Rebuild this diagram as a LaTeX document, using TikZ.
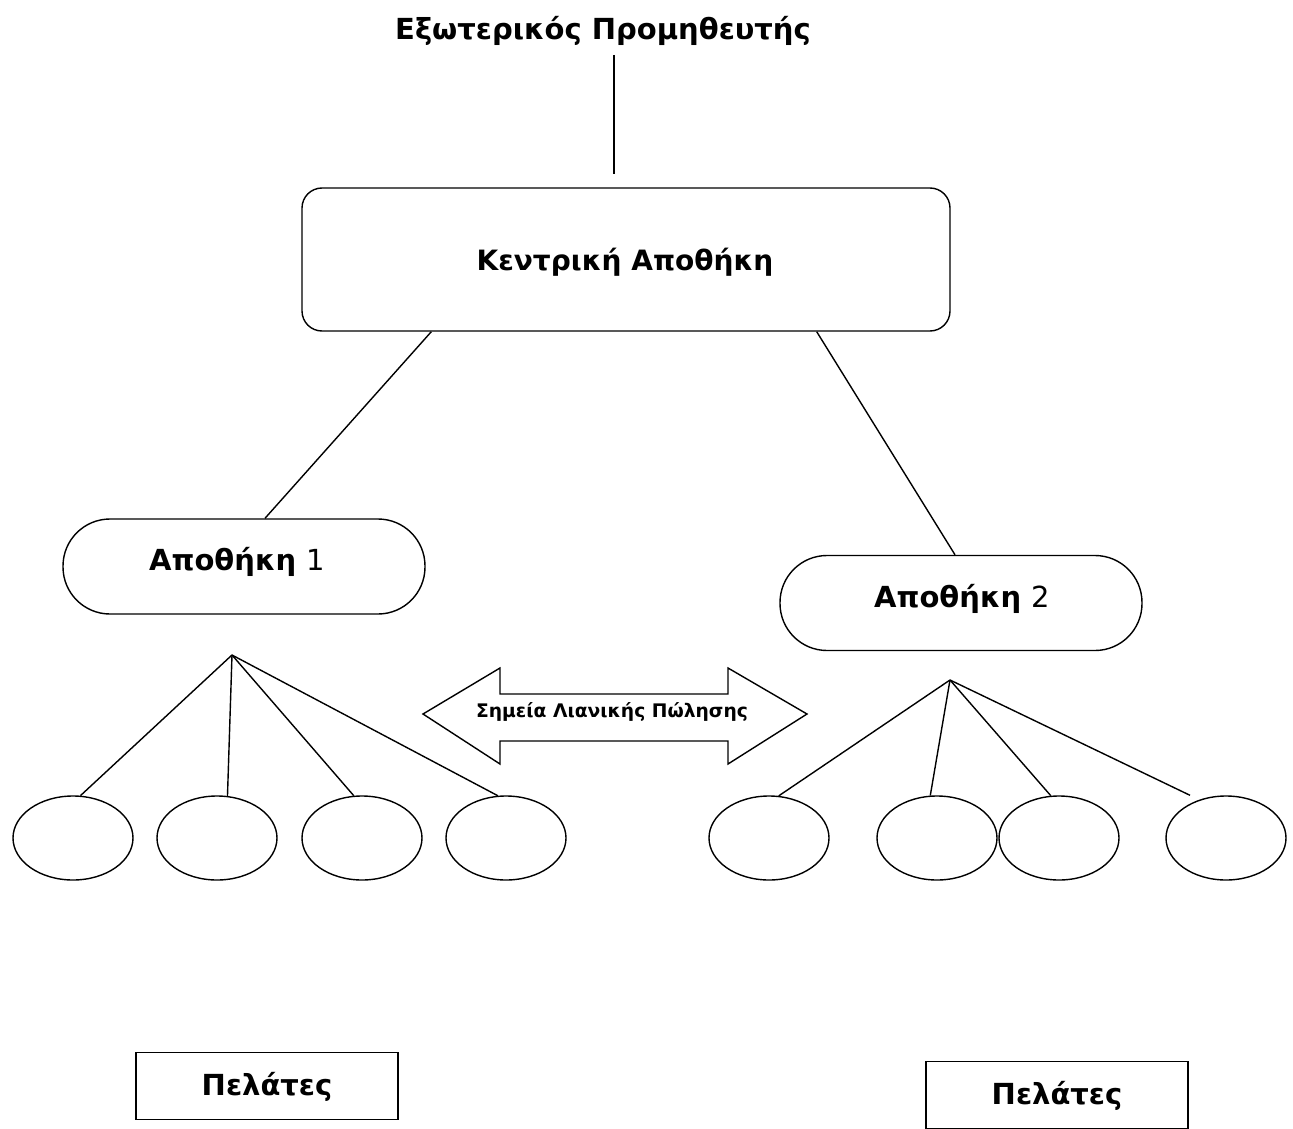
\documentclass[tikz,border=0pt]{standalone}
\usepackage{fontspec}
\setmainfont{DejaVu Sans}
\usetikzlibrary{shapes.geometric}
\begin{document}
\begin{tikzpicture}[x=1pt,y=-1pt,line width=1.4pt,
  lbl/.style={font=\bfseries\fontsize{29}{32}\selectfont,inner sep=0pt,anchor=base},
  cl/.style={font=\bfseries\fontsize{28}{32}\selectfont,inner sep=0pt,anchor=base},
  small/.style={font=\bfseries\fontsize{18.7}{21}\selectfont,inner sep=0pt,anchor=base},
  rbox/.style={draw,rounded corners=20pt,minimum width=648pt,minimum height=143pt,inner sep=0pt},
  stad/.style={draw,rounded corners=47pt,minimum width=362pt,minimum height=95pt,inner sep=0pt},
  oval/.style={draw,ellipse,minimum width=120pt,minimum height=84pt,inner sep=0pt},
  cbox/.style={draw,minimum width=262pt,minimum height=67pt,inner sep=0pt}]
\useasboundingbox (0,0) rectangle (1293,1129);
% title
\node[lbl] (title) at (603,40) {Εξωτερικός Προμηθευτής};
\coordinate (t1) at (614,55);
\coordinate (t2) at (614,174);
\draw (t1) -- (t2);
% central
\node[rbox] (central) at (626,259.5) {};
\node[cl] (centralt) at (625,270) {Κεντρική Αποθήκη};
% warehouses
\node[stad] (w1) at (244,566.5) {};
\node[lbl] (w1t) at (237,570) {Αποθήκη {\mdseries 1}};
\node[stad] (w2) at (961,603) {};
\node[lbl] (w2t) at (962,607) {Αποθήκη {\mdseries 2}};
\draw ([xshift=130pt]central.south west) -- ([xshift=21pt]w1.north);
\draw ([xshift=-134pt]central.south east) -- ([xshift=-6pt]w2.north);
% left customers
\coordinate (a1) at (232,655);
\node[oval] (e1) at (73,838) {};
\node[oval] (e2) at (217,838) {};
\node[oval] (e3) at (362,838) {};
\node[oval] (e4) at (506,838) {};
\draw (a1) -- (e1.80);
\draw (a1) -- (e2.76);
\draw (a1) -- (e3.101);
\draw (a1) -- (e4.101);
% right customers
\coordinate (a2) at (950,680);
\node[oval] (e5) at (769,838) {};
\node[oval] (e6) at (937,838) {};
\node[oval] (e7) at (1059,838) {};
\node[oval] (e8) at (1226,838) {};
\coordinate (r4) at ([xshift=-36pt]e8.north);
\draw (a2) -- (e5.77);
\draw (a2) -- (e6.99);
\draw (a2) -- (e7.101);
\draw (a2) -- (r4);
% double arrow
\draw (423,714) -- (500,668) -- (500,694) -- (728,694) -- (728,668) -- (807,714)
  -- (728,764) -- (728,741) -- (500,741) -- (500,764) -- cycle;
\node[small] (retail) at (612,717) {Σημεία Λιανικής Πώλησης};
% customers boxes
\node[cbox] (c1) at (267,1086) {};
\node[lbl] (c1t) at (267,1095) {Πελάτες};
\node[cbox] (c2) at (1057,1095) {};
\node[lbl] (c2t) at (1057,1104) {Πελάτες};
\end{tikzpicture}
\end{document}
